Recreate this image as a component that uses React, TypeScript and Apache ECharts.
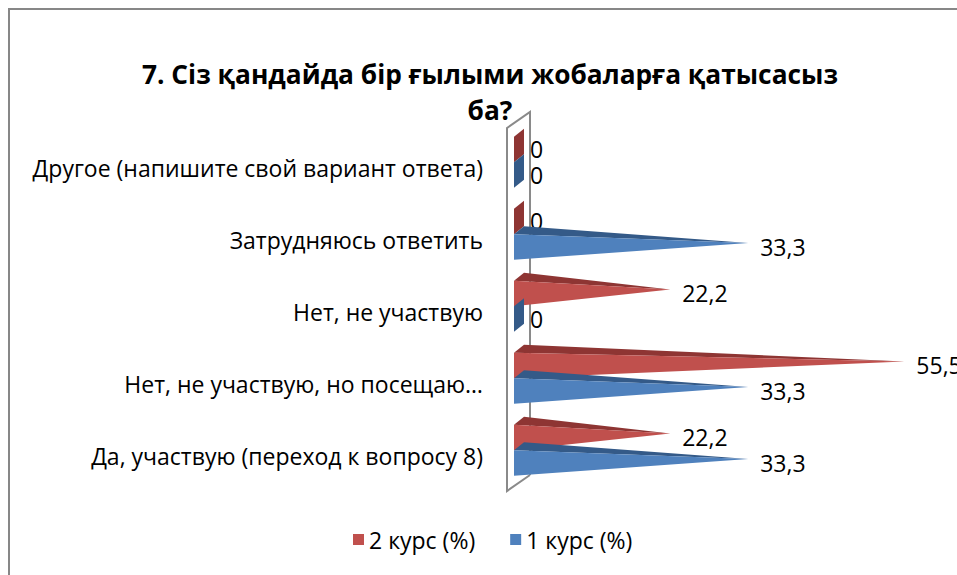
import React, { useEffect, useRef } from "react";
import * as echarts from "echarts";

const categories = [
  "Да, участвую (переход к вопросу 8)",
  "Нет, не участвую, но посещаю…",
  "Нет, не участвую",
  "Затрудняюсь ответить",
  "Другое (напишите свой вариант ответа)",
];
const course2 = [22.2, 55.5, 22.2, 0, 0];
const course1 = [33.3, 33.3, 0, 33.3, 0];
const seriesNames = ["2 курс (%)", "1 курс (%)"];
const titleLines = ["7. Сіз қандайда бір ғылыми жобаларға қатысасыз", "ба?"];

const FONT = "'Open Sans'";
const FS = 23;
const RED = "#C0504D";
const RED_DARK = "#8E3533";
const BLUE = "#4F81BD";
const BLUE_DARK = "#345A88";

const fmt = (v: number) => String(v).replace(".", ",");

function makeRender(kind: number, front: string, dark: string) {
  return (params: any, api: any) => {
    const v = api.value(0) as number;
    const ci = api.value(1) as number;
    const base = api.coord([0, ci]);
    const end = api.coord([v, ci]);
    const band = api.size([0, 1])[1];
    const h = band * 0.355;
    const c = base[1] - band * 0.08;
    const yTop = kind === 0 ? c - h : c;
    const yBot = yTop + h;
    const dx = 10;
    const dy = 8;
    const x0 = base[0];
    const children: any[] = [];
    if (v <= 0) {
      children.push({
        type: "polygon",
        shape: { points: [[x0, yTop], [x0 + dx, yTop - dy], [x0 + dx, yBot - dy], [x0, yBot]] },
        style: { fill: dark },
      });
    } else {
      const tip = [end[0], (yTop + yBot) / 2 - dy / 2];
      children.push({
        type: "polygon",
        shape: { points: [[x0, yTop], [x0 + dx, yTop - dy], tip] },
        style: { fill: dark },
      });
      children.push({
        type: "polygon",
        shape: { points: [[x0, yTop], [x0, yBot], tip] },
        style: { fill: front },
      });
    }
    children.push({
      type: "text",
      x: Math.max(end[0] + 12, x0 + 16),
      y: (yTop + yBot) / 2,
      style: {
        text: fmt(v),
        fill: "#000",
        font: `${FS}px ${FONT}`,
        lineHeight: 22,
        verticalAlign: "middle",
        align: "left",
      },
    });
    return { type: "group", children };
  };
}

function renderWall(params: any, api: any) {
  const cs = params.coordSys;
  const x0 = cs.x;
  const fx = x0 - 7;
  const bx = x0 + 16;
  const top = cs.y - 4;
  const bot = cs.y + cs.height - 1;
  const dy = 16;
  return {
    type: "polyline",
    shape: {
      points: [
        [bx, bot - dy],
        [fx, bot],
        [fx, top],
        [bx, top - dy],
        [bx, bot - dy],
      ],
    },
    style: { stroke: "#8A8A8A", lineWidth: 2, fill: "none" },
  };
}

export default function App() {
  const ref = useRef<HTMLDivElement>(null);
  useEffect(() => {
    if (!ref.current) return;
    const chart = echarts.init(ref.current, undefined, { renderer: "svg" });
    const d2 = course2.map((v, i) => [v, i]);
    const d1 = course1.map((v, i) => [v, i]);
    chart.setOption({
      animation: false,
      backgroundColor: "#fff",
      textStyle: { fontFamily: FONT },
      graphic: [
        {
          type: "rect",
          shape: { x: 9, y: 9, width: 1000, height: 1000 },
          style: { fill: "none", stroke: "#878787", lineWidth: 2 },
          silent: true,
        },
        {
          type: "text",
          x: 490,
          y: 61,
          style: {
            text: titleLines[0],
            font: `bold 26.3px ${FONT}`,
            fill: "#000",
            align: "center",
            verticalAlign: "alphabetic",
          },
        },
        {
          type: "text",
          x: 490,
          y: 97,
          style: {
            text: titleLines[1],
            font: `bold 26.3px ${FONT}`,
            fill: "#000",
            align: "center",
            verticalAlign: "alphabetic",
          },
        },
      ],
      legend: {
        data: seriesNames.map((n, i) => ({
          name: n,
          itemStyle: { color: i === 0 ? RED : BLUE },
        })),
        left: 353,
        top: 528,
        padding: 0,
        icon: "rect",
        itemWidth: 11,
        itemHeight: 11,
        itemGap: 35,
        textStyle: { fontFamily: FONT, fontSize: FS, color: "#000" },
      },
      grid: { left: 514, right: 21, top: 132, bottom: 83 },
      xAxis: { type: "value", min: 0, max: 60, show: false },
      yAxis: {
        type: "category",
        data: categories,
        axisLine: { show: false },
        axisTick: { show: false },
        axisLabel: { margin: 31, fontFamily: FONT, fontSize: FS, color: "#000" },
      },
      series: [
        {
          type: "custom",
          name: "wall",
          data: [[0, 0]],
          renderItem: renderWall,
          z: 1,
          silent: true,
        },
        {
          type: "custom",
          name: seriesNames[0],
          data: d2,
          encode: { x: 0, y: 1 },
          renderItem: makeRender(0, RED, RED_DARK),
          itemStyle: { color: RED },
          z: 2,
        },
        {
          type: "custom",
          name: seriesNames[1],
          data: d1,
          encode: { x: 0, y: 1 },
          renderItem: makeRender(1, BLUE, BLUE_DARK),
          itemStyle: { color: BLUE },
          z: 3,
        },
      ],
    });
    return () => chart.dispose();
  }, []);
  return (
    <div
      ref={ref}
      style={{ position: "fixed", left: 0, top: 0, width: 957, height: 575 }}
    />
  );
}
